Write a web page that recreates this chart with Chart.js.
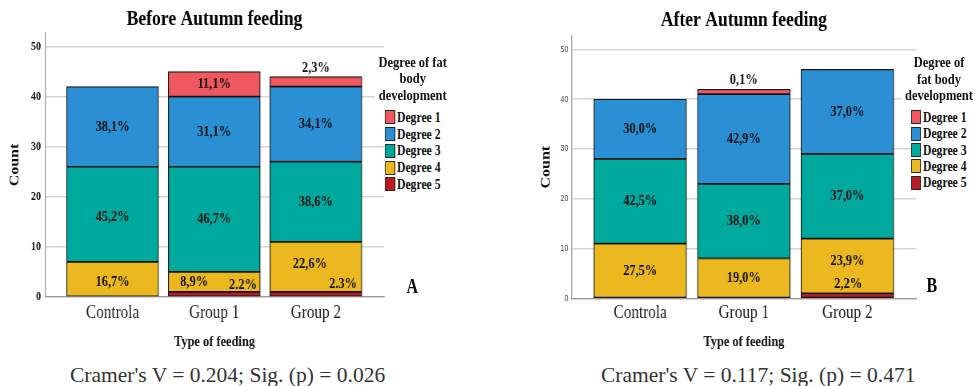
<!DOCTYPE html>
<html>
<head>
<meta charset="utf-8">
<script src="https://cdn.jsdelivr.net/npm/chart.js@4.4.1/dist/chart.umd.min.js"></script>
<style>
  body { margin: 0; background: #fff; width: 977px; height: 386px; position: relative; overflow: hidden; font-family: "Liberation Serif", "Times New Roman", serif; }
  /* the exported figure is horizontally squeezed, so the whole drawing is laid out 1/0.8 wider and compressed */
  #stage { position: absolute; left: 0; top: 0; width: 1222px; height: 352px; transform: scaleX(0.8); transform-origin: 0 0; }
  canvas { position: absolute; top: 0; }
  #before { left: 0; }
  #after { left: 612.5px; }
  .leg-title { position: absolute; transform: translateX(-50%); background: #fff; padding: 0 5px; text-align: center; font-weight: bold; font-size: 15.6px; line-height: 16.5px; color: #111; white-space: nowrap; }
  .leg-items { position: absolute; background: #fff; padding-right: 3px; }
  .leg-row { display: flex; align-items: center; font-weight: bold; font-size: 14.6px; color: #111; white-space: nowrap; }
  .leg-box { width: 12.5px; height: 14px; box-sizing: border-box; border: 1px solid #262626; margin-right: 2.5px; }
  .tag { position: absolute; font-weight: bold; font-size: 20px; line-height: 20px; color: #000; }
  .caption { position: absolute; top: 362px; font-size: 21.5px; line-height: 26px; color: #333; white-space: nowrap; }
</style>
</head>
<body>
<div id="stage">
  <canvas id="before" width="600" height="352"></canvas>
  <canvas id="after" width="609" height="352"></canvas>
  <div class="tag" style="left:508px;top:276px">A</div>
  <div class="tag" style="left:1158px;top:275px">B</div>
</div>
<div class="caption" style="left:70px">Cramer's V = 0.204; Sig. (p) = 0.026</div>
<div class="caption" style="left:601px">Cramer's V = 0.117; Sig. (p) = 0.471</div>
<script>
const categories = ['Controla', 'Group 1', 'Group 2'];
const degrees = ['Degree 1', 'Degree 2', 'Degree 3', 'Degree 4', 'Degree 5'];
const degreeColors = ['#f0585f', '#2b8fd4', '#00a99d', '#ebb91f', '#b81b21'];
const yTicks = [0, 10, 20, 30, 40, 50];

// counts per group (Controla, Group 1, Group 2)
const beforeDeg1 = [0, 5, 2];
const beforeDeg2 = [16, 14, 15];
const beforeDeg3 = [19, 21, 16];
const beforeDeg4 = [7, 4, 10];
const beforeDeg5 = [0, 1, 1];
const beforePct1 = ['', '11,1%', '2,3%'];
const beforePct2 = ['38,1%', '31,1%', '34,1%'];
const beforePct3 = ['45,2%', '46,7%', '38,6%'];
const beforePct4 = ['16,7%', '8,9%', '22,6%'];
const beforePct5 = ['', '2.2%', '2.3%'];

const afterDeg1 = [0, 1, 0];
const afterDeg2 = [12, 18, 17];
const afterDeg3 = [17, 15, 17];
const afterDeg4 = [11, 8, 11];
const afterDeg5 = [0, 0, 1];
const afterPct1 = ['', '0,1%', ''];
const afterPct2 = ['30,0%', '42,9%', '37,0%'];
const afterPct3 = ['42,5%', '38,0%', '37,0%'];
const afterPct4 = ['27,5%', '19,0%', '23,9%'];
const afterPct5 = ['', '', '2,2%'];

Chart.defaults.font.family = '"Liberation Serif", "Times New Roman", serif';
Chart.defaults.color = '#111';

// percentage text inside the segments
const pctLabels = {
  id: 'pctLabels',
  afterDatasetsDraw(chart, args, opts) {
    const ctx = chart.ctx;
    ctx.save();
    ctx.font = 'bold 15.5px "Liberation Serif"';
    ctx.fillStyle = '#111';
    ctx.textAlign = 'center';
    ctx.textBaseline = 'middle';
    chart.data.datasets.forEach((ds, di) => {
      const meta = chart.getDatasetMeta(di);
      meta.data.forEach((bar, i) => {
        const text = ds.pct[i];
        if (!text) return;
        const n = (opts.nudge[ds.label] || {})[i] || [0, 0];
        ctx.fillText(text, bar.x + n[0], (bar.y + bar.base) / 2 + n[1]);
      });
    });
    ctx.restore();
  }
};

function makeLegend(cfg) {
  const stage = document.getElementById('stage');
  const title = document.createElement('div');
  title.className = 'leg-title';
  title.innerHTML = cfg.lines.join('<br>');
  title.style.left = cfg.titleX + 'px';
  title.style.top = cfg.titleTop + 'px';
  stage.appendChild(title);

  const list = document.createElement('div');
  list.className = 'leg-items';
  list.style.left = cfg.boxX + 'px';
  list.style.top = cfg.rowsTop + 'px';
  degrees.forEach((d, k) => {
    const row = document.createElement('div');
    row.className = 'leg-row';
    row.style.height = cfg.rowH + 'px';
    row.innerHTML = '<span class="leg-box" style="background:' + degreeColors[k] + '"></span>' + d;
    list.appendChild(row);
  });
  stage.appendChild(list);
}

function makeChart(id, cfg) {
  // bottom of stack first: Degree 5 ... Degree 1
  const datasets = [4, 3, 2, 1, 0].map(k => ({
    label: degrees[k],
    data: cfg.counts[k].map((v, i) => ({ x: i + 1, y: v })),
    pct: cfg.pct[k],
    backgroundColor: degreeColors[k],
    borderColor: '#141414',
    borderWidth: 1.2,
    borderSkipped: false,
    barThickness: cfg.barWidth
  }));

  return new Chart(document.getElementById(id), {
    type: 'bar',
    data: { datasets },
    plugins: [pctLabels],
    options: {
      responsive: false,
      animation: false,
      devicePixelRatio: 1,
      layout: { padding: { left: 0, right: cfg.padRight, top: 0, bottom: 0 } },
      scales: {
        x: {
          type: 'linear',
          stacked: true,
          offset: false,
          min: cfg.xMin,
          max: cfg.xMax,
          afterBuildTicks: s => { s.ticks = categories.map((c, i) => ({ value: i + 1 })); },
          ticks: {
            autoSkip: false,
            maxRotation: 0,
            padding: cfg.xTickPad,
            color: '#1a1a1a',
            font: { size: 19 },
            callback: v => categories[v - 1]
          },
          grid: { display: false, drawTicks: false },
          border: { display: true, color: '#9a9a9a', width: 1.2 },
          title: {
            display: true,
            text: 'Type of feeding',
            color: '#111',
            font: { size: 15.5, weight: 'bold' },
            padding: cfg.xTitlePad
          }
        },
        y: {
          stacked: true,
          min: 0,
          max: 52.7,
          afterBuildTicks: s => { s.ticks = yTicks.map(v => ({ value: v })); },
          ticks: cfg.yTicks,
          grid: { color: '#d6d6d6', lineWidth: 1.5, drawTicks: false },
          border: { display: true, color: '#9a9a9a', width: 1.3 },
          title: {
            display: true,
            text: 'Count',
            color: '#111',
            font: { size: 16, weight: 'bold' },
            padding: cfg.yTitlePad
          }
        }
      },
      plugins: {
        title: {
          display: true,
          text: cfg.title,
          fullSize: false,
          color: '#000',
          font: { size: 22, weight: 'bold' },
          padding: cfg.titlePad
        },
        legend: { display: false },
        tooltip: { enabled: false },
        pctLabels: { nudge: cfg.nudge }
      }
    }
  });
}

makeChart('before', {
  title: 'Before Autumn feeding',
  counts: [beforeDeg1, beforeDeg2, beforeDeg3, beforeDeg4, beforeDeg5],
  pct: [beforePct1, beforePct2, beforePct3, beforePct4, beforePct5],
  barWidth: 115,
  xMin: 0.335, xMax: 3.67,
  padRight: 120,
  xTickPad: 4.6,
  xTitlePad: { top: 3.4, bottom: 1 },
  yTitlePad: { top: 9.15, bottom: 5.4 },
  yTicks: { padding: 5, color: '#111', font: { size: 12.5, weight: 'bold' } },
  titlePad: { top: 5.8, bottom: 0.8 },
  nudge: {
    'Degree 1': { 2: [0, -14] },
    'Degree 3': { 0: [0, 2.5] },
    'Degree 4': { 0: [0, 3], 1: [-25, 0], 2: [-7.5, -3] },
    'Degree 5': { 1: [36, -9.5], 2: [34, -10.5] }
  }
});
makeLegend({ lines: ['Degree of fat', 'body', 'development'], titleX: 515.9, titleTop: 53.75, boxX: 481.25, rowsTop: 108.9, rowH: 16.75 });

makeChart('after', {
  title: 'After Autumn feeding',
  counts: [afterDeg1, afterDeg2, afterDeg3, afterDeg4, afterDeg5],
  pct: [afterPct1, afterPct2, afterPct3, afterPct4, afterPct5],
  barWidth: 116,
  xMin: 0.336, xMax: 3.666,
  padRight: 76.5,
  xTickPad: 3.6,
  xTitlePad: { top: 4.4, bottom: 0.7 },
  yTitlePad: { top: 60.4, bottom: 4.15 },
  yTicks: { padding: 3.75, color: '#444', font: { family: '"Liberation Sans", sans-serif', size: 9 } },
  titlePad: { top: 6.8, bottom: 2.8 },
  nudge: {
    'Degree 1': { 1: [0, -12] },
    'Degree 4': { 2: [0, -5] },
    'Degree 5': { 2: [1, -11] }
  }
});
makeLegend({ lines: ['Degree of', 'fat body', 'development'], titleX: 1173.75, titleTop: 54, boxX: 1138.75, rowsTop: 109.1, rowH: 16.4 });
</script>
</body>
</html>
